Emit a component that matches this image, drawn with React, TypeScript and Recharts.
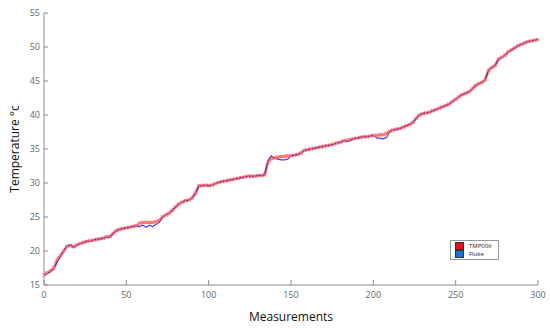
import React from 'react';
import {
  LineChart, Line, XAxis, YAxis, Label,
} from 'recharts';

// every second measurement, 0..300
const MEASUREMENTS = [
  0, 2, 4, 6, 8, 10, 12, 14, 16, 18, 20, 22, 24, 26, 28, 30, 32, 34, 36, 38,
  40, 42, 44, 46, 48, 50, 52, 54, 56, 58, 60, 62, 64, 66, 68, 70, 72, 74, 76, 78,
  80, 82, 84, 86, 88, 90, 92, 94, 96, 98, 100, 102, 104, 106, 108, 110, 112, 114, 116, 118,
  120, 122, 124, 126, 128, 130, 132, 134, 136, 138, 140, 142, 144, 146, 148, 150, 152, 154, 156, 158,
  160, 162, 164, 166, 168, 170, 172, 174, 176, 178, 180, 182, 184, 186, 188, 190, 192, 194, 196, 198,
  200, 202, 204, 206, 208, 210, 212, 214, 216, 218, 220, 222, 224, 226, 228, 230, 232, 234, 236, 238,
  240, 242, 244, 246, 248, 250, 252, 254, 256, 258, 260, 262, 264, 266, 268, 270, 272, 274, 276, 278,
  280, 282, 284, 286, 288, 290, 292, 294, 296, 298, 300,
];

const TMP006 = [
  16.5, 16.8, 17.1, 17.5, 18.7, 19.3, 20.0, 20.7, 20.8, 20.6, 20.9, 21.1, 21.3, 21.4, 21.5, 21.6, 21.7, 21.8, 21.9, 22.1,
  22.1, 22.6, 23.0, 23.2, 23.3, 23.4, 23.5, 23.6, 23.7, 24.1, 24.2, 24.2, 24.2, 24.2, 24.3, 24.5, 25.0, 25.3, 25.6, 26.0,
  26.5, 26.9, 27.2, 27.4, 27.5, 27.8, 28.5, 29.6, 29.6, 29.7, 29.6, 29.7, 29.9, 30.1, 30.2, 30.3, 30.4, 30.5, 30.6, 30.7,
  30.8, 30.9, 31.0, 31.0, 31.0, 31.1, 31.1, 31.2, 33.0, 33.6, 33.7, 33.8, 33.9, 33.9, 34.0, 34.0, 34.1, 34.2, 34.4, 34.8,
  34.9, 35.0, 35.1, 35.2, 35.3, 35.4, 35.5, 35.6, 35.7, 35.9, 36.0, 36.2, 36.3, 36.4, 36.5, 36.6, 36.7, 36.8, 36.8, 36.9,
  37.0, 37.0, 37.1, 37.1, 37.3, 37.6, 37.8, 37.9, 38.0, 38.2, 38.4, 38.6, 38.9, 39.5, 40.0, 40.2, 40.3, 40.4, 40.6, 40.8,
  41.0, 41.2, 41.4, 41.6, 42.0, 42.3, 42.7, 43.0, 43.2, 43.4, 43.8, 44.3, 44.6, 44.8, 45.2, 46.6, 47.0, 47.3, 48.2, 48.5,
  48.8, 49.3, 49.6, 49.9, 50.2, 50.4, 50.6, 50.8, 50.9, 51.0, 51.1,
];

const FLUKE = [
  16.4, 16.7, 17.0, 17.4, 18.4, 19.3, 20.0, 20.8, 20.9, 20.5, 20.8, 21.1, 21.2, 21.5, 21.4, 21.6, 21.8, 21.7, 21.9, 22.0,
  22.0, 22.6, 23.0, 23.2, 23.3, 23.4, 23.5, 23.6, 23.7, 23.6, 23.8, 23.5, 23.8, 23.6, 23.9, 24.2, 25.0, 25.3, 25.6, 26.0,
  26.5, 26.9, 27.2, 27.4, 27.5, 27.8, 28.5, 29.5, 29.6, 29.7, 29.5, 29.7, 29.9, 30.1, 30.2, 30.3, 30.4, 30.5, 30.6, 30.7,
  30.8, 30.9, 31.0, 31.0, 31.0, 31.1, 31.1, 31.2, 33.3, 34.0, 33.6, 33.5, 33.4, 33.4, 33.5, 34.0, 34.1, 34.2, 34.4, 34.8,
  34.9, 35.0, 35.1, 35.2, 35.3, 35.4, 35.5, 35.6, 35.7, 35.9, 36.0, 36.2, 36.1, 36.2, 36.5, 36.6, 36.7, 36.8, 36.8, 36.9,
  37.0, 36.6, 36.6, 36.5, 36.7, 37.6, 37.8, 37.9, 38.0, 38.2, 38.4, 38.6, 38.9, 39.5, 40.0, 40.2, 40.3, 40.4, 40.6, 40.8,
  41.0, 41.2, 41.4, 41.6, 42.0, 42.3, 42.7, 43.0, 43.2, 43.4, 43.8, 44.3, 44.6, 44.8, 45.2, 46.6, 47.0, 47.3, 48.2, 48.5,
  48.8, 49.3, 49.6, 49.9, 50.2, 50.4, 50.6, 50.8, 50.9, 51.0, 51.1,
];

const X_TICKS = [0, 50, 100, 150, 200, 250, 300];
const Y_TICKS = [15, 20, 25, 30, 35, 40, 45, 50, 55];
const SERIES = [
  { name: 'TMP006', color: '#e8101a' },
  { name: 'Fluke', color: '#1a6fd0' },
];

const data = MEASUREMENTS.map((m, i) => ({ m, tmp006: TMP006[i], fluke: FLUKE[i] }));

const FONT = '"Open Sans", "DejaVu Sans", sans-serif';
const AXIS = '#8c8c8c';
const TICK = { fontSize: 9, fill: '#666', fontFamily: FONT };

// MATLAB-style x marker
const Cross = (props: any) => {
  const { cx, cy, index } = props;
  if (cx == null || cy == null) return null;
  const s = 1.7;
  return (
    <path
      key={`x-${index}`}
      d={`M${cx - s},${cy - s}L${cx + s},${cy + s}M${cx - s},${cy + s}L${cx + s},${cy - s}`}
      stroke="#ff7070"
      strokeWidth={0.9}
      fill="none"
    />
  );
};

export default function App() {
  return (
    <div style={{ position: 'absolute', left: 0, top: 0, width: 550, height: 328, background: '#fff' }}>
      <LineChart width={550} height={328} data={data} margin={{ top: 13, right: 12, bottom: 0, left: 0 }}>
        <XAxis
          dataKey="m"
          type="number"
          domain={[0, 300]}
          ticks={X_TICKS}
          tick={TICK}
          tickSize={-5}
          tickMargin={12}
          stroke={AXIS}
          height={43}
        >
          <Label value="Measurements" position="insideBottom" offset={7} style={{ fontSize: 12, fill: '#111', fontFamily: FONT }} />
        </XAxis>
        <YAxis
          type="number"
          domain={[15, 55]}
          ticks={Y_TICKS}
          tick={TICK}
          tickSize={-4}
          tickMargin={8}
          stroke={AXIS}
          width={44}
        >
          <Label value="Temperature °c" angle={-90} position="insideLeft" offset={15} style={{ fontSize: 12, fill: '#111', fontFamily: FONT, textAnchor: 'middle' }} />
        </YAxis>
        <Line
          dataKey="tmp006"
          name="TMP006"
          stroke="#ff4d4d"
          strokeOpacity={0.7}
          strokeWidth={3}
          dot={<Cross />}
          isAnimationActive={false}
        />
        <Line
          dataKey="fluke"
          name="Fluke"
          stroke="#3320c8"
          strokeOpacity={0.85}
          strokeWidth={1.2}
          dot={false}
          isAnimationActive={false}
        />
      </LineChart>
      <div
        style={{
          position: 'absolute', left: 450, top: 240, width: 49, height: 20,
          border: '1px solid #9a9a9a', background: '#fff', boxSizing: 'border-box',
          padding: '1px 4px', fontFamily: FONT, fontSize: 6, color: '#222',
        }}
      >
        {SERIES.map((s) => (
          <div key={s.name} style={{ display: 'flex', alignItems: 'center', height: 8 }}>
            <span style={{ width: 7, height: 6, background: s.color, border: '0.5px solid #333', marginRight: 5 }} />
            <span>{s.name}</span>
          </div>
        ))}
      </div>
    </div>
  );
}
